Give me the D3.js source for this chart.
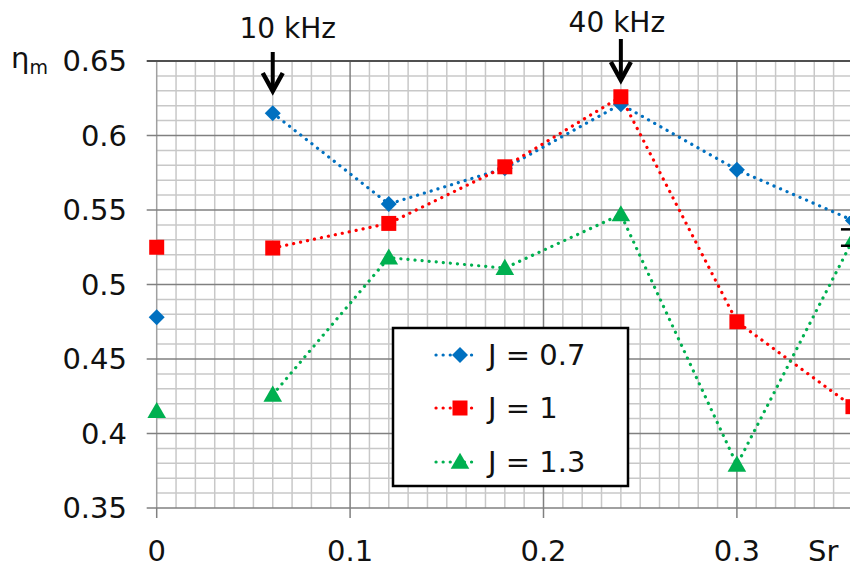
<!DOCTYPE html>
<html><head><meta charset="utf-8">
<script src="https://cdn.jsdelivr.net/npm/d3@7"></script>
<style>body{margin:0;background:#fff}svg{display:block;font-family:"DejaVu Sans",Verdana,sans-serif}</style>
</head><body><svg id="c" width="850" height="567"></svg>
<script>
const xValues = [0, 0.06, 0.12, 0.18, 0.24, 0.30, 0.36];
const seriesNames = ["J = 0.7", "J = 1", "J = 1.3"];
const j07 = [0.478, 0.615, 0.554, 0.578, 0.621, 0.577, 0.543];
const j10 = [0.525, 0.5245, 0.541, 0.579, 0.626, 0.475, 0.418];
const j13 = [0.415, 0.426, 0.518, 0.511, 0.547, 0.379, 0.530];
const xTicks = [0, 0.1, 0.2, 0.3];
const xTickLabels = ["0", "0.1", "0.2", "0.3"];
const yTicks = [0.35, 0.4, 0.45, 0.5, 0.55, 0.6, 0.65];
const yTickLabels = ["0.35", "0.4", "0.45", "0.5", "0.55", "0.6", "0.65"];
const annotations = [{x: 0.06, label: "10 kHz"}, {x: 0.24, label: "40 kHz"}];
const capValues = [0.537, 0.526];
const capX = 0.36;

const colors = ["#0070C0", "#FF0000", "#00B050"];
// diamond as a rotated square (equal width/height)
const diamond = {draw(ctx, size) { const r = Math.sqrt(size) / 2; ctx.moveTo(0, -r); ctx.lineTo(r, 0); ctx.lineTo(0, r); ctx.lineTo(-r, 0); ctx.closePath(); }};
const shapes = [diamond, d3.symbolSquare, d3.symbolTriangle];
const symSizes = [256, 225, 150];

const svg = d3.select("#c");
const x = d3.scaleLinear().domain([0, 0.1]).range([156.7, 350.1]);
const y = d3.scaleLinear().domain([0.35, 0.65]).range([508, 61]);
const xMax = 0.37;

// grid
const g = svg.append("g");
const minorX = d3.range(0, 38).map(i => i / 100);
const minorY = d3.range(35, 66).map(i => i / 100);
g.selectAll(".vx").data(minorX.filter(v => Math.round(v * 100) % 10 !== 0)).join("line")
  .attr("x1", d => x(d)).attr("x2", d => x(d)).attr("y1", y(0.35)).attr("y2", y(0.65))
  .attr("stroke", "#c8c8c8").attr("stroke-width", 1.5);
g.selectAll(".hy").data(minorY.filter(v => Math.round(v * 100) % 5 !== 0)).join("line")
  .attr("x1", x(0)).attr("x2", x(xMax)).attr("y1", d => y(d)).attr("y2", d => y(d))
  .attr("stroke", "#c8c8c8").attr("stroke-width", 1.5);
g.selectAll(".vmaj").data(xTicks.concat([0.4])).join("line")
  .attr("x1", d => x(d)).attr("x2", d => x(d)).attr("y1", y(0.35)).attr("y2", y(0.65))
  .attr("stroke", d => d === 0 ? "#a0a0a0" : "#808080").attr("stroke-width", 1.5);
g.selectAll(".hmaj").data(yTicks).join("line")
  .attr("x1", x(0) - 10).attr("x2", x(xMax)).attr("y1", d => y(d)).attr("y2", d => y(d))
  .attr("stroke", d => d === 0.65 ? "#505050" : "#808080").attr("stroke-width", d => d === 0.65 ? 2 : 1.5);
// x ticks
g.selectAll(".xt").data(xTicks).join("line")
  .attr("x1", d => x(d)).attr("x2", d => x(d)).attr("y1", y(0.35)).attr("y2", y(0.35) + 10)
  .attr("stroke", "#808080").attr("stroke-width", 1.5);

// tick labels
svg.selectAll(".yl").data(yTicks).join("text")
  .attr("x", 127).attr("y", d => y(d)).attr("dy", "0.35em").attr("text-anchor", "end")
  .attr("font-size", 29).attr("fill", "#111").text((d, i) => yTickLabels[i]);
svg.selectAll(".xl").data(xTicks).join("text")
  .attr("x", d => x(d)).attr("y", 551).attr("dy", "0.35em").attr("text-anchor", "middle")
  .attr("font-size", 29).attr("fill", "#111").text((d, i) => xTickLabels[i]);
svg.append("text").attr("x", 808).attr("y", 551).attr("dy", "0.35em")
  .attr("font-size", 29).attr("fill", "#111").text("Sr");
const yl = svg.append("text").attr("x", 11).attr("y", 68).attr("font-size", 29).attr("fill", "#111");
yl.append("tspan").text("η");
yl.append("tspan").attr("font-size", 19).attr("dy", 6).text("m");

// series
const allSeries = [j07, j10, j13];
allSeries.forEach((vals, si) => {
  const pts = xValues.map((xv, i) => [xv, vals[i]]);
  const linePts = pts.filter(p => p[0] > 0);
  svg.append("path").datum(linePts)
    .attr("d", d3.line().x(d => x(d[0])).y(d => y(d[1])))
    .attr("fill", "none").attr("stroke", colors[si]).attr("stroke-width", 3.2)
    .attr("stroke-linecap", "round").attr("stroke-dasharray", "0.1 7");
});
allSeries.forEach((vals, si) => {
  const pts = xValues.map((xv, i) => [xv, vals[i]]);
  svg.selectAll(null).data(pts).join("path")
    .attr("transform", d => `translate(${x(d[0])},${y(d[1]) + (si === 2 ? 1.5 : 0)})`)
    .attr("d", d3.symbol().type(shapes[si]).size(symSizes[si]))
    .attr("fill", colors[si]);
});

// caps
svg.selectAll(".cap").data(capValues).join("line")
  .attr("x1", x(capX) - 12).attr("x2", x(capX) + 12)
  .attr("y1", d => y(d)).attr("y2", d => y(d))
  .attr("stroke", "#000").attr("stroke-width", 2.5);

// annotations
const ann = svg.selectAll(".ann").data(annotations).join("g");
const annTop = [{t: 28, s: 52, tip: 93, dx: 15}, {t: 22, s: 39, tip: 82, dx: -4}];
ann.append("text").attr("x", (d, i) => x(d.x) + annTop[i].dx).attr("y", (d, i) => annTop[i].t).attr("dy", "0.35em")
  .attr("text-anchor", "middle").attr("font-size", 28).attr("fill", "#111").text(d => d.label);
ann.append("line").attr("x1", d => x(d.x)).attr("x2", d => x(d.x))
  .attr("y1", (d, i) => annTop[i].s).attr("y2", (d, i) => annTop[i].tip - 6)
  .attr("stroke", "#000").attr("stroke-width", 4);
ann.append("path").attr("d", (d, i) => {
  const cx = x(d.x), tip = annTop[i].tip;
  return `M${cx - 10},${tip - 20} L${cx},${tip - 2} L${cx + 10},${tip - 20}`;
}).attr("fill", "none").attr("stroke", "#000").attr("stroke-width", 4.5).attr("stroke-linejoin", "miter");

// legend
const lg = svg.append("g");
lg.append("rect").attr("x", 393).attr("y", 328).attr("width", 235).attr("height", 158)
  .attr("fill", "#fff").attr("stroke", "#000").attr("stroke-width", 2.5);
const legY = [355, 408, 462];
seriesNames.forEach((name, si) => {
  lg.append("line").attr("x1", 436).attr("x2", 477).attr("y1", legY[si]).attr("y2", legY[si])
    .attr("stroke", colors[si]).attr("stroke-width", 3.2).attr("stroke-linecap", "round")
    .attr("stroke-dasharray", "0.1 7");
  lg.append("path").attr("transform", `translate(460,${legY[si] + (si === 2 ? 1.5 : 0)})`)
    .attr("d", d3.symbol().type(shapes[si]).size(symSizes[si])).attr("fill", colors[si]);
  lg.append("text").attr("x", 488).attr("y", legY[si]).attr("dy", "0.35em")
    .attr("font-size", 29).attr("fill", "#111").text(name);
});
</script></body></html>
